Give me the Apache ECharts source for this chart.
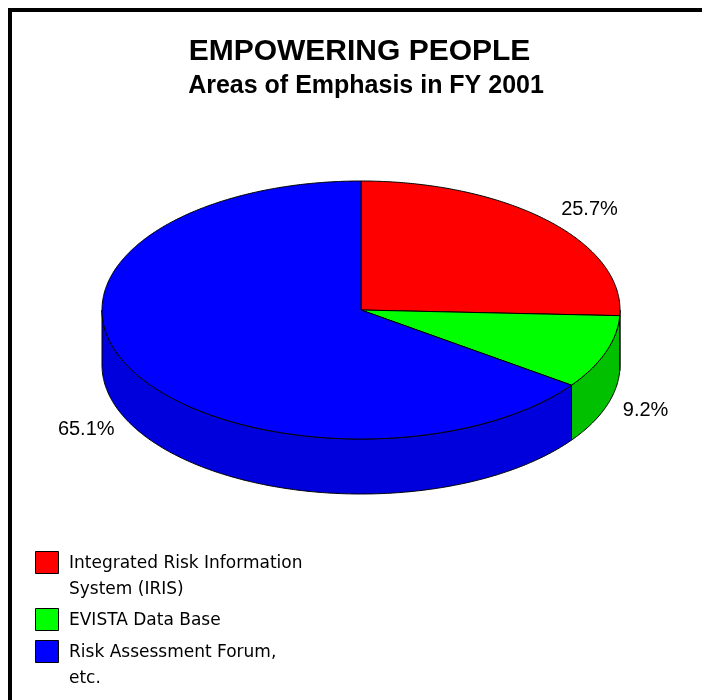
<!DOCTYPE html>
<html>
<head>
<meta charset="utf-8">
<script src="https://cdn.jsdelivr.net/npm/echarts@6/dist/echarts.min.js"></script>
<style>
html,body{margin:0;padding:0;background:#fff;}
#c{width:702px;height:700px;}
</style>
</head>
<body>
<div id="c"></div>
<script>
// ---- data ----
const categories = ['Integrated Risk Information\nSystem (IRIS)', 'EVISTA Data Base', 'Risk Assessment Forum,\netc.'];
const values = [25.7, 9.2, 65.1];
const topColors = ['#FF0000', '#00FF00', '#0000FF'];
const sideColors = ['#DD0000', '#00C000', '#0000DD'];
const titleText = 'EMPOWERING PEOPLE';
const subtitleText = 'Areas of Emphasis in FY 2001';

// ---- layout (style) ----
const CX = 361, CY = 310, RX = 259, RY = 129, DEPTH = 55;
const total = values.reduce((a, b) => a + b, 0);
let acc = 0;
const seriesData = values.map((v, i) => { const d = { name: categories[i], value: [v, acc] }; acc += v; return d; });

function pt(deg, dy, kx, ky) {
  const r = deg * Math.PI / 180;
  return [CX + (RX + (kx || 0)) * Math.cos(r), CY + (RY + (ky || 0)) * Math.sin(r) + (dy || 0)];
}
function arc(a, b, dy) {
  const pts = [];
  const n = Math.max(2, Math.ceil(Math.abs(b - a) / 0.5));
  for (let k = 0; k <= n; k++) pts.push(pt(a + (b - a) * k / n, dy));
  return pts;
}

function renderItem(params, api) {
  const i = params.dataIndex;
  const v = api.value(0), before = api.value(1);
  const a0 = -90 + before / total * 360;
  const a1 = a0 + v / total * 360;
  const children = [];
  const s0 = Math.max(a0, 0), s1 = Math.min(a1, 180);
  if (s1 > s0) {
    const sidePts = arc(s0, s1, 0).concat(arc(s1, s0, DEPTH));
    children.push({
      type: 'polygon', shape: { points: sidePts },
      style: { fill: sideColors[i], stroke: '#000', lineWidth: 1, lineJoin: 'round' }
    });
  }
  const topPts = [[CX, CY]].concat(arc(a0, a1, 0));
  children.push({
    type: 'polygon', shape: { points: topPts },
    style: { fill: topColors[i], stroke: '#000', lineWidth: 1, lineJoin: 'round' }
  });
  const m = (a0 + a1) / 2, mr = m * Math.PI / 180;
  const lp = pt(m, Math.sin(mr) > 0 ? DEPTH - 2 : 0, 18, 17);
  children.push({
    type: 'text', x: lp[0], y: lp[1],
    style: {
      text: v.toFixed(1) + '%', fill: '#000',
      font: '20px "Liberation Sans", Arial, sans-serif',
      align: Math.cos(mr) >= 0 ? 'left' : 'right', verticalAlign: 'middle'
    }
  });
  return { type: 'group', children: children };
}

// legend graphics
const legendGraphics = [];
let ly = 551;
categories.forEach((name, i) => {
  const lines = name.split('\n').length;
  legendGraphics.push({
    type: 'rect', shape: { x: 35.5, y: ly + 0.5, width: 23, height: 22 },
    style: { fill: topColors[i], stroke: '#000', lineWidth: 1 }
  });
  legendGraphics.push({
    type: 'text', x: 69, y: ly + 12.5,
    style: {
      text: name, fill: '#000', font: '17px "DejaVu Sans", Verdana, sans-serif',
      lineHeight: 26, align: 'left', verticalAlign: 'top'
    },
    top: null
  });
  ly += lines * 25 + 7;
});
// fix text positions: place first line center at square center
legendGraphics.forEach(g => { if (g.type === 'text') { g.y = g.y - 13; } });

const chart = echarts.init(document.getElementById('c'), null, { renderer: 'canvas' });
chart.setOption({
  backgroundColor: '#fff',
  animation: false,
  graphic: [
    { type: 'rect', shape: { x: 10, y: 10, width: 760, height: 760 }, style: { fill: 'none', stroke: '#000', lineWidth: 4 } },
    { type: 'text', x: 359.5, y: 52, style: { text: titleText, fill: '#000', font: 'bold 30px "Liberation Sans", Arial, sans-serif', align: 'center', verticalAlign: 'middle' } },
    { type: 'text', x: 366, y: 86, style: { text: subtitleText, fill: '#000', font: 'bold 25px "Liberation Sans", Arial, sans-serif', align: 'center', verticalAlign: 'middle' } }
  ].concat(legendGraphics),
  series: [{
    type: 'custom',
    coordinateSystem: 'none',
    renderItem: renderItem,
    data: seriesData
  }]
});
</script>
</body>
</html>
